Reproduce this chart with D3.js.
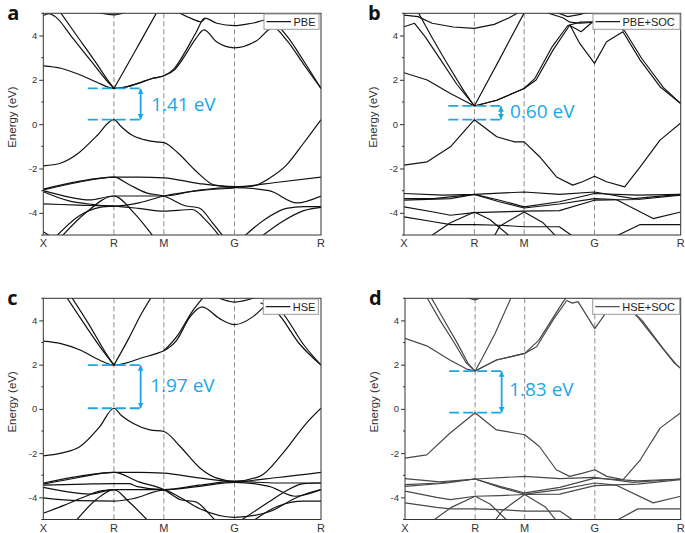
<!DOCTYPE html>
<html>
<head>
<meta charset="utf-8">
<script src="https://cdn.jsdelivr.net/npm/d3@7"></script>
<style>
  html, body { margin: 0; padding: 0; background: #fff; }
  svg { display: block; }
</style>
</head>
<body>
<svg id="chart" width="685" height="533"></svg>
<script>
// ---------------- DATA ----------------
// k-path: X - R - M - G - R ; path position p: 0=X, 1=R, 2=M, 3=G, 4=R
const kLabels = ["X", "R", "M", "G", "R"];
const kPathDist = [0, 0.7071, 1.2071, 1.9142, 2.7802];   // cubic BZ segment lengths (2pi/a units)
const yTicks = [4, 2, 0, -2, -4];
const yMinorTicks = [5, 3, 1, -1, -3, -5];
const panelLetters = ["a", "b", "c", "d"];
const legendNames = ["PBE", "PBE+SOC", "HSE", "HSE+SOC"];
const gapLabels = ["1.41 eV", "0.60 eV", "1.97 eV", "1.83 eV"];
const gapCBM = [1.61, 0.82, 1.98, 1.71];
const gapVBM = [0.20, 0.20, 0.03, -0.17];

// bands: each band = list of [path position p, energy (eV)]
const pbeBands = [
  [[0,2.63],[0.25,2.52],[0.5,2.25],[0.75,1.9],[1,1.61],[1.25,1.68],[1.5,1.85],[1.75,2.05],[2,2.18],[2.15,2.45],[2.3,3.1],[2.45,3.85],[2.57,4.25],[2.75,3.7],[3,3.44],[3.25,3.75],[3.45,4.35],[3.6,3.8],[3.8,2.7],[4,1.61]],
  [[1,1.61],[1.25,1.68],[1.5,1.85],[1.75,2.05],[2,2.18],[2.15,2.52],[2.3,3.25],[2.45,4.1],[2.58,4.78],[2.75,4.55],[3,4.44],[3.2,4.55],[3.4,4.72],[3.6,4.0],[3.8,2.85],[4,1.61]],
  [[0,4.9],[0.08,4.98],[0.17,4.85],[0.4,3.95],[0.7,2.75],[0.9,1.95],[1,1.61]],
  [[0.24,5.05],[0.45,4.1],[0.75,2.75],[0.92,1.95],[1,1.61]],
  [[1,1.61],[1.2,2.4],[1.5,3.6],[1.86,5.05]],
  [[0.75,5.05],[1,4.93],[1.25,5.05]],
  [[2.2,5.05],[2.4,4.75],[2.52,4.62],[2.58,4.75]],
  [[0,-1.88],[0.25,-1.75],[0.5,-1.3],[0.75,-0.55],[1,0.2],[1.15,-0.12],[1.35,-0.48],[1.6,-0.7],[1.85,-0.8],[2,-0.83],[2.2,-1.3],[2.45,-2.1],[2.72,-2.75],[3,-2.84],[3.2,-2.8],[3.42,-2.4],[3.6,-1.85],[3.8,-0.85],[4,0.2]],
  [[0,-2.93],[0.5,-2.58],[1,-2.39],[1.5,-2.39],[2,-2.42],[2.5,-2.68],[3,-2.82],[3.5,-2.62],[4,-2.39]],
  [[0,-2.97],[0.5,-2.62],[1,-2.39],[1.3,-2.72],[1.65,-3.1],[2,-3.24],[2.3,-3.68],[2.5,-3.78],[2.7,-4.5],[2.85,-5.1]],
  [[0,-3.0],[0.35,-3.28],[0.65,-3.42],[1,-3.24],[1.5,-3.24],[2,-3.24],[2.5,-2.97],[3,-2.86],[3.4,-3.0],[3.72,-3.55],[4,-3.24]],
  [[0,-3.05],[0.35,-3.45],[0.7,-3.62],[1,-3.7],[1.5,-3.55],[2,-3.24],[2.5,-3.0],[3,-2.88]],
  [[0,-3.6],[0.5,-3.65],[1,-3.7],[1.5,-3.8],[2,-3.92],[2.4,-3.85],[2.6,-4.35],[2.8,-5.1]],
  [[0.25,-5.1],[0.6,-4.0],[1,-3.24],[1.4,-4.0],[1.8,-5.1]],
  [[0.17,-5.1],[0.5,-4.15],[0.8,-3.75],[1,-3.7]],
  [[3.1,-5.1],[3.35,-4.3],[3.6,-3.8],[3.8,-3.72],[4,-3.72]],
  [[3.3,-5.1],[3.55,-4.4],[3.8,-3.9],[4,-3.75]],
  [[0,-4.85],[0.12,-5.1]]
];

const pbeSocBands = [
  [[0,2.32],[0.33,1.99],[0.66,1.38],[1,0.82],[1.45,1.08],[2,1.61],[2.17,1.99],[2.41,3.34],[2.65,4.47],[2.79,3.64],[3,2.74],[3.14,3.72],[3.33,4.17],[3.53,2.89],[3.76,1.69],[4,0.93]],
  [[1,0.82],[1.45,1.08],[2,1.61],[2.15,2.05],[2.4,3.5],[2.62,4.45],[2.8,4.6],[3,4.62]],
  [[0,4.39],[0.15,4.55],[0.3,3.95],[0.5,3.0],[0.75,1.8],[1,0.82]],
  [[0.2,5.05],[0.4,3.9],[0.6,2.8],[0.85,1.5],[1,0.82]],
  [[0,4.92],[0.2,4.85],[0.4,4.55],[0.7,4.38],[1,4.32],[1.4,4.5],[1.7,4.8],[1.9,5.05]],
  [[1,0.82],[1.5,2.9],[2,5.02]],
  [[3.2,4.6],[3.35,4.2],[3.55,2.95],[3.8,1.65],[4,0.93]],
  [[2.3,5.05],[2.55,4.8],[2.65,4.6],[2.8,4.55],[3,4.6]],
  [[2.45,5.05],[2.62,4.85],[2.8,4.95],[2.9,5.05]],
  [[2.65,4.45],[2.81,4.17],[2.95,4.55],[3.0,4.62]],
  [[0,-1.85],[0.33,-1.7],[0.66,-1.02],[1,0.2],[1.45,-0.57],[1.81,-0.8],[2,-0.8],[2.22,-1.47],[2.46,-2.38],[2.69,-2.75],[2.83,-2.6],[3,-2.35],[3.14,-2.6],[3.35,-2.83],[3.53,-1.93],[3.76,-0.72],[4,0.05]],
  [[0,-3.13],[0.56,-3.2],[1,-3.17],[2,-3.06],[2.5,-3.17],[3,-3.06],[3.45,-3.36],[4,-3.17]],
  [[0,-3.36],[0.42,-3.36],[1,-3.17],[1.51,-3.43],[2,-3.73],[2.5,-3.5],[3,-3.13],[3.5,-3.2],[4,-3.17]],
  [[0,-3.43],[0.66,-3.36],[1,-3.17],[1.5,-3.5],[2,-3.78],[2.5,-3.6],[3,-3.36],[3.25,-3.4],[3.68,-4.26],[4,-3.96]],
  [[0,-3.73],[0.42,-3.96],[0.66,-4.11],[1,-3.99],[1.51,-3.96],[2,-3.92],[2.5,-3.9],[3,-3.43],[3.5,-3.4],[4,-3.2]],
  [[0,-4.18],[0.42,-4.4],[0.66,-4.53],[1,-4.53],[1.51,-4.56],[2,-4.63],[2.5,-4.63],[2.69,-5.05]],
  [[0.38,-5.05],[0.66,-4.45],[1,-3.96],[1.31,-4.3],[1.71,-5.05]],
  [[1.4,-5.05],[1.51,-4.6],[2,-3.96],[2.27,-4.45],[2.45,-5.05]],
  [[3.25,-5.05],[3.53,-4.53],[4,-4.53]]
];

const hseBands = [
  [[0,3.06],[0.25,2.95],[0.52,2.66],[0.8,2.2],[1,1.98],[1.25,2.08],[1.52,2.28],[1.85,2.5],[2,2.63],[2.18,3.1],[2.37,4.16],[2.54,4.61],[2.79,4.08],[3,3.81],[3.21,4.16],[3.35,4.65],[3.42,4.9]],
  [[3.3,4.8],[3.48,4.4],[3.76,2.9],[4,1.98]],
  [[3.4,4.8],[3.54,4.4],[3.8,2.9],[4,1.98]],
  [[2,2.63],[2.2,3.35],[2.4,4.4],[2.56,5.05]],
  [[2.75,5.05],[3,4.83],[3.25,5.05]],
  [[0.33,5.05],[0.6,3.75],[0.85,2.6],[1,1.98]],
  [[0.4,5.05],[0.65,3.8],[0.88,2.55],[1,1.98]],
  [[1,1.98],[1.3,3.2],[1.55,4.3],[1.75,5.05]],
  [[0,-2.12],[0.25,-2.0],[0.52,-1.7],[0.8,-0.8],[1,0.03],[1.15,-0.3],[1.38,-0.65],[1.72,-0.95],[2,-1.02],[2.23,-1.7],[2.51,-2.67],[2.74,-3.12],[3,-3.27],[3.29,-3.05],[3.56,-2.0],[3.83,-0.65],[4,0.03]],
  [[0,-3.35],[0.5,-3.05],[1,-2.87],[1.5,-2.87],[2,-2.9],[2.5,-3.12],[3,-3.28],[3.5,-3.1],[4,-2.87]],
  [[0,-3.4],[0.5,-3.1],[1,-2.87],[1.5,-3.3],[2,-3.65],[2.25,-4.12],[2.45,-4.2],[2.7,-4.95],[2.75,-5.1]],
  [[0,-3.45],[0.6,-3.4],[0.98,-3.38],[1.3,-3.38],[1.45,-3.5],[2,-3.65],[2.5,-3.45],[3,-3.28],[3.5,-3.35],[4,-3.35]],
  [[0,-3.55],[0.35,-3.75],[0.65,-3.85],[1,-3.65],[1.5,-3.65],[2,-3.65],[2.5,-3.5],[3,-3.32],[3.4,-3.5],[3.7,-3.95],[4,-3.65]],
  [[0,-4.02],[0.5,-4.15],[1,-4.17],[1.4,-4.05],[2,-3.67],[2.2,-3.95],[2.5,-4.5],[3,-4.9],[3.4,-4.65],[3.75,-3.95],[4,-3.65]],
  [[0.45,-5.1],[0.75,-4.1],[1,-3.65],[1.3,-4.2],[1.7,-5.1]],
  [[0,-4.72],[0.3,-4.35],[0.6,-3.95],[0.8,-3.72],[1,-3.65]],
  [[3.2,-5.1],[3.5,-4.4],[3.8,-4.17],[4,-4.17]],
  [[3.05,-5.1],[3.4,-4.2],[3.6,-3.7],[3.8,-3.38],[4,-3.35]]
];

const hseSocBands = [
  [[0,3.19],[0.31,2.85],[0.64,2.21],[0.88,1.8],[1,1.71],[1.43,2.21],[2,2.51],[2.17,2.81],[2.41,4.05],[2.6,4.9],[2.68,4.78],[2.76,4.85],[3,3.63],[3.12,4.3],[3.25,4.8],[3.32,5.05]],
  [[1,1.71],[1.43,2.21],[2,2.51],[2.2,3.1],[2.45,4.35],[2.55,4.85],[2.6,5.05]],
  [[0.31,5.05],[0.5,4.0],[0.7,3.0],[0.87,2.1],[1,1.71]],
  [[0.37,5.05],[0.55,4.05],[0.75,2.95],[0.9,2.05],[1,1.71]],
  [[1,1.71],[1.12,2.2],[1.4,3.4],[1.73,5.05]],
  [[0.85,5.05],[1,4.93],[1.15,5.05]],
  [[3.35,4.75],[3.55,4.0],[3.8,2.7],[3.95,2.0],[4,1.83]],
  [[3.3,4.85],[3.5,4.15],[3.76,2.88],[3.92,2.1],[4,1.83]],
  [[0,-2.23],[0.31,-2.08],[0.64,-1.1],[1,-0.17],[1.43,-0.95],[1.83,-1.1],[2,-1.17],[2.21,-1.7],[2.45,-2.75],[2.64,-3.05],[2.83,-2.9],[3,-2.75],[3.14,-3.05],[3.33,-3.2],[3.53,-2.3],[3.76,-0.87],[4,-0.17]],
  [[0,-3.15],[0.5,-3.3],[1,-3.17],[2,-3.05],[2.5,-3.15],[3,-3.1],[3.45,-3.32],[4,-3.17]],
  [[0,-3.42],[0.5,-3.35],[1,-3.17],[1.5,-3.5],[2,-3.8],[2.5,-3.55],[3,-3.13],[3.5,-3.25],[4,-3.17]],
  [[0,-3.5],[0.6,-3.35],[1,-3.17],[1.5,-3.55],[2,-3.85],[2.5,-3.65],[3,-3.35],[3.25,-3.45],[3.68,-4.25],[4,-3.95]],
  [[0,-3.72],[0.45,-4.0],[0.65,-4.1],[1,-3.95],[1.5,-3.92],[2,-3.87],[2.5,-3.85],[3,-3.47],[3.5,-3.4],[4,-3.2]],
  [[0,-4.25],[0.45,-4.45],[0.65,-4.52],[1,-4.52],[1.5,-4.55],[2,-4.62],[2.5,-4.62],[2.7,-5.05]],
  [[0.4,-5.05],[0.66,-4.45],[1,-3.95],[1.3,-4.3],[1.65,-5.05]],
  [[1.4,-5.05],[1.55,-4.6],[2,-3.87],[2.3,-4.45],[2.45,-5.05]],
  [[3.25,-5.05],[3.5,-4.52],[4,-4.52]]
];

const panelBands = [pbeBands, pbeSocBands, hseBands, hseSocBands];

// ---------------- LAYOUT / STYLE ----------------
const layout = [
  { l: 43.3, r: 321,   t: 13.3,  b: 235,   legX: 264,   legW: 55, color: "#111", lw: 1.2,  curve: d3.curveMonotoneX, textDx: 10.5, textDy: 6.5 },
  { l: 404,  r: 680.7, t: 13.3,  b: 235,   legX: 593,   legW: 87, color: "#111", lw: 1.15, curve: d3.curveLinear,    textDx: 9,    textDy: 5 },
  { l: 43.3, r: 321,   t: 298.3, b: 519.5, legX: 263.3, legW: 55, color: "#111", lw: 1.2,  curve: d3.curveMonotoneX, textDx: 9.5,  textDy: 5 },
  { l: 405,  r: 680.7, t: 298.3, b: 519.5, legX: 592.7, legW: 87, color: "#484848", lw: 1.2, curve: d3.curveLinear,  textDx: 7.5,  textDy: 4 }
];
const cyan = "#1ba7e4";

function pToK(p) {
  const i = Math.min(Math.floor(p), 3);
  return kPathDist[i] + (p - i) * (kPathDist[i + 1] - kPathDist[i]);
}

const svg = d3.select("#chart");
svg.append("rect").attr("width", 685).attr("height", 533).attr("fill", "#fff");

const defs = svg.append("defs");
defs.append("marker").attr("id", "arrowHead")
  .attr("viewBox", "0 0 10 10").attr("refX", 9).attr("refY", 5)
  .attr("markerWidth", 3.2).attr("markerHeight", 3.2)
  .attr("orient", "auto-start-reverse")
  .append("path").attr("d", "M0,0 L10,5 L0,10 Z").attr("fill", cyan);

layout.forEach((L, idx) => {
  const x = d3.scaleLinear().domain([0, kPathDist[4]]).range([L.l, L.r]);
  const y = d3.scaleLinear().domain([-5, 5]).range([L.b, L.t]);
  const g = svg.append("g");

  defs.append("clipPath").attr("id", "clip" + idx)
    .append("rect").attr("x", L.l).attr("y", L.t).attr("width", L.r - L.l).attr("height", L.b - L.t);

  // high-symmetry dashed lines
  g.selectAll("line.hs").data([1, 2, 3]).enter().append("line")
    .attr("x1", d => x(pToK(d))).attr("x2", d => x(pToK(d)))
    .attr("y1", L.t).attr("y2", L.b)
    .attr("stroke", "#8a8a8a").attr("stroke-width", 1).attr("stroke-dasharray", "5,3");

  // bands
  const line = d3.line().x(d => x(pToK(d[0]))).y(d => y(d[1])).curve(L.curve);
  g.append("g").attr("clip-path", `url(#clip${idx})`)
    .selectAll("path").data(panelBands[idx]).enter().append("path")
    .attr("d", line).attr("fill", "none")
    .attr("stroke", L.color).attr("stroke-width", L.lw).attr("stroke-linejoin", "round");

  // frame
  g.append("rect").attr("x", L.l).attr("y", L.t).attr("width", L.r - L.l).attr("height", L.b - L.t)
    .attr("fill", "none").attr("stroke", "#333").attr("stroke-width", 1);

  // y axis
  const yAxis = d3.axisLeft(y).tickValues(yTicks).tickSize(4).tickPadding(2).tickFormat(d => String(d));
  const ga = g.append("g").attr("transform", `translate(${L.l},0)`).call(yAxis);
  ga.select(".domain").remove();
  ga.selectAll("line").attr("stroke", "#333");
  ga.selectAll("text").attr("font-family", "'Liberation Sans', Arial, sans-serif").attr("font-size", 9.5).attr("fill", "#333");
  g.selectAll("line.minor").data(yMinorTicks).enter().append("line")
    .attr("x1", L.l - 2).attr("x2", L.l).attr("y1", d => y(d)).attr("y2", d => y(d))
    .attr("stroke", "#333").attr("stroke-width", 1);

  // x labels
  g.selectAll("text.kl").data(kLabels).enter().append("text")
    .attr("x", (d, i) => x(pToK(i))).attr("y", L.b + 12)
    .attr("text-anchor", "middle")
    .attr("font-family", "'Liberation Sans', Arial, sans-serif").attr("font-size", 11).attr("fill", "#333")
    .text(d => d);

  // y label
  const yc = (L.t + L.b) / 2 - 7;
  g.append("text")
    .attr("transform", `translate(${L.l - 27},${yc}) rotate(-90)`)
    .attr("text-anchor", "middle")
    .attr("font-family", "'Liberation Sans', Arial, sans-serif").attr("font-size", 11.5).attr("fill", "#333")
    .text("Energy (eV)");

  // panel letter
  g.append("text").attr("x", L.l - 36).attr("y", L.t + 6.5)
    .attr("font-family", "'Open Sans', 'DejaVu Sans', sans-serif").attr("font-weight", 700)
    .attr("font-size", 20).attr("fill", "#111").text(panelLetters[idx]);

  // legend
  const legY = L.t + 0.7, legH = 15.3;
  g.append("rect").attr("x", L.legX).attr("y", legY).attr("width", L.legW).attr("height", legH)
    .attr("fill", "#fff").attr("stroke", "#9a9a9a").attr("stroke-width", 1);
  g.append("line").attr("x1", L.legX + 2.5).attr("x2", L.legX + 27).attr("y1", legY + legH / 2).attr("y2", legY + legH / 2)
    .attr("stroke", L.color).attr("stroke-width", 1.2);
  g.append("text").attr("x", L.legX + 29.5).attr("y", legY + legH / 2 + 4)
    .attr("font-family", "'Liberation Sans', Arial, sans-serif").attr("font-size", 11).attr("fill", "#222")
    .text(legendNames[idx]);

  // band gap annotation
  const yC = y(gapCBM[idx]), yV = y(gapVBM[idx]);
  const xa = x(pToK(0.63)), xb = x(pToK(1.55)), xArr = x(pToK(1.535));
  [yC, yV].forEach(yy => {
    g.append("line").attr("x1", xa).attr("x2", xb).attr("y1", yy).attr("y2", yy)
      .attr("stroke", cyan).attr("stroke-width", 1.8).attr("stroke-dasharray", "10,4");
  });
  g.append("line").attr("x1", xArr).attr("x2", xArr).attr("y1", yC + 0.5).attr("y2", yV - 0.5)
    .attr("stroke", cyan).attr("stroke-width", 1.8)
    .attr("marker-start", "url(#arrowHead)").attr("marker-end", "url(#arrowHead)");
  g.append("text").attr("x", xArr + L.textDx).attr("y", (yC + yV) / 2 + L.textDy)
    .attr("font-family", "'Open Sans', Lato, sans-serif").attr("font-size", 19).attr("fill", cyan)
    .text(gapLabels[idx]);
});
</script>
</body>
</html>
